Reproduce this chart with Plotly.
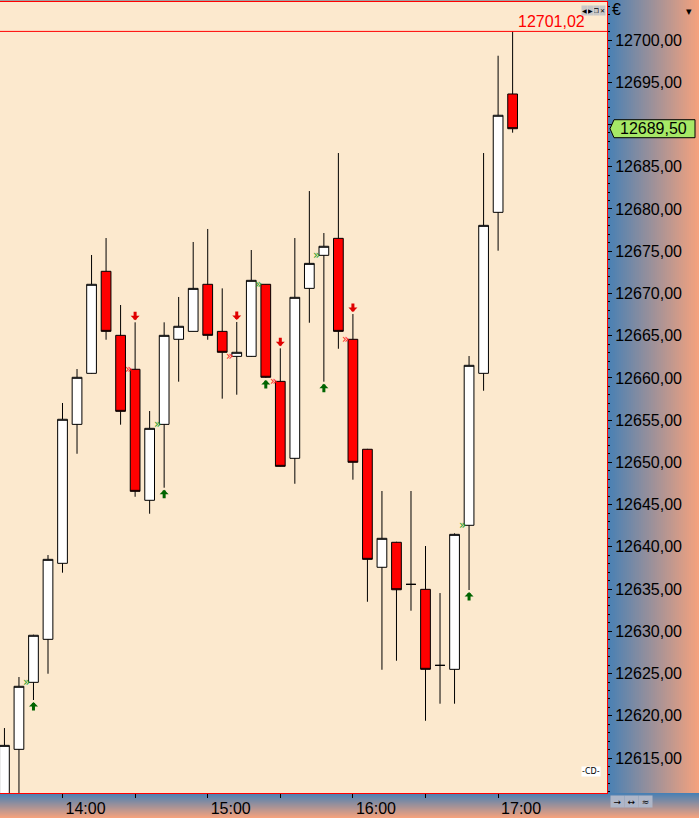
import plotly.graph_objects as go

# ---------------- data ----------------
DAY = "2024-03-15"
TIMES = ["13:36", "13:42", "13:48", "13:54", "14:00", "14:06", "14:12", "14:18", "14:24",
         "14:30", "14:36", "14:42", "14:48", "14:54", "15:00", "15:06", "15:12", "15:18",
         "15:24", "15:30", "15:36", "15:42", "15:48", "15:54", "16:00", "16:06", "16:12",
         "16:18", "16:24", "16:30", "16:36", "16:42", "16:48", "16:54", "17:00", "17:06"]
OPEN = [12609.50, 12616.03, 12623.96, 12629.05, 12638.05, 12654.50, 12660.54, 12672.62, 12665.04,
        12661.02, 12645.51, 12654.50, 12664.57, 12665.51, 12671.08, 12665.51, 12662.55, 12662.55,
        12671.08, 12659.59, 12650.48, 12670.60, 12674.51, 12676.52, 12664.57, 12651.55, 12637.58,
        12640.54, 12635.56, 12634.97, 12625.97, 12625.50, 12642.55, 12660.54, 12679.60, 12693.61]
HIGH = [12618.55, 12624.59, 12629.60, 12639.03, 12657.03, 12661.05, 12674.55, 12676.56, 12668.63,
        12666.58, 12656.08, 12666.58, 12669.58, 12676.09, 12677.63, 12670.60, 12666.62, 12675.14,
        12671.10, 12663.50, 12676.56, 12682.12, 12677.15, 12686.62, 12667.56, 12651.60, 12646.61,
        12640.60, 12646.61, 12640.10, 12634.53, 12641.60, 12662.59, 12686.62, 12698.14, 12701.02]
LOW = [12608.00, 12609.50, 12621.87, 12624.98, 12636.94, 12651.02, 12660.50, 12664.52, 12654.46,
       12645.93, 12643.92, 12647.00, 12659.55, 12665.50, 12664.52, 12657.54, 12658.01, 12662.50,
       12660.00, 12649.50, 12647.47, 12666.53, 12659.55, 12663.45, 12647.95, 12633.50, 12625.45,
       12626.52, 12632.44, 12619.41, 12621.43, 12621.43, 12634.89, 12658.48, 12675.06, 12689.03]
CLOSE = [12616.50, 12623.49, 12629.53, 12638.52, 12655.10, 12660.07, 12671.08, 12665.51, 12656.04,
         12646.57, 12654.03, 12665.04, 12666.11, 12670.60, 12665.04, 12663.03, 12663.03, 12671.55,
         12660.07, 12649.53, 12669.54, 12673.56, 12675.58, 12665.51, 12650.01, 12638.52, 12641.01,
         12634.92, 12635.56, 12625.50, 12625.97, 12641.48, 12661.49, 12678.06, 12691.09, 12689.50]

BUY_SIGNAL_TIMES = ["13:48", "14:42", "15:24", "15:48", "16:48"]
SELL_SIGNAL_TIMES = ["14:30", "15:12", "15:30", "16:00"]

SESSION_HIGH = 12701.02
LAST_PRICE = 12689.50

X_TICKS = ["14:00", "14:30", "15:00", "15:30", "16:00", "16:30", "17:00"]
X_TICK_LABELS = ["14:00", "", "15:00", "", "16:00", "", "17:00"]
Y_TICKS = [12615, 12620, 12625, 12630, 12635, 12640, 12645, 12650, 12655, 12660,
           12665, 12670, 12675, 12680, 12685, 12690, 12695, 12700]
Y_TICK_LABELS = ["12615,00", "12620,00", "12625,00", "12630,00", "12635,00", "12640,00",
                 "12645,00", "12650,00", "12655,00", "12660,00", "12665,00", "12670,00",
                 "12675,00", "12680,00", "12685,00", "", "12695,00", "12700,00"]
X_RANGE = ["13:34:10", "17:45:00"]
Y_RANGE = [12610.86, 12704.50]

# ---------------- style ----------------
W, H = 699, 818
M_L, M_R, M_T, M_B = 0, 92, 2, 25
PLOT_W = W - M_L - M_R
PLOT_H = H - M_T - M_B
FONT = "Liberation Sans"
BG = "#FCE9CE"
BLUE = (72, 128, 180)
SALMON = (244, 162, 126)


def ts(t):
    return f"{DAY} {t}"


def fmt(v):
    return f"{v:.2f}".replace(".", ",")


def lerp(c0, c1, t):
    return "rgb(%d,%d,%d)" % tuple(round(a + (b - a) * t) for a, b in zip(c0, c1))


xs = [ts(t) for t in TIMES]
idx = {t: i for i, t in enumerate(TIMES)}

fig = go.Figure()
fig.add_trace(go.Candlestick(
    x=xs, open=OPEN, high=HIGH, low=LOW, close=CLOSE,
    increasing=dict(fillcolor="white", line=dict(color="black", width=1)),
    decreasing=dict(fillcolor="#FF0000", line=dict(color="black", width=1)),
    whiskerwidth=0, showlegend=False, hoverinfo="skip",
))

shapes = []
# right axis panel gradient (horizontal)
n = 46
for i in range(n):
    shapes.append(dict(type="rect", xref="paper", yref="paper",
                       x0=1 + (i * 2) / PLOT_W, x1=1 + (i * 2 + 2.6) / PLOT_W,
                       y0=0, y1=1 + M_T / PLOT_H,
                       fillcolor=lerp(BLUE, SALMON, i / (n - 1)), line_width=0, layer="below"))
# bottom axis panel gradient (vertical)
for j in range(M_B):
    shapes.append(dict(type="rect", xref="paper", yref="paper",
                       x0=0, x1=W / PLOT_W,
                       y0=-(j + 1.3) / PLOT_H, y1=-j / PLOT_H,
                       fillcolor=lerp(BLUE, SALMON, j / (M_B - 1)), line_width=0, layer="below"))
# session high line
shapes.append(dict(type="line", xref="paper", yref="y", x0=0, x1=1,
                   y0=SESSION_HIGH, y1=SESSION_HIGH, line=dict(color="#FF0000", width=1)))
# last price tag
shapes.append(dict(type="path", xref="paper", yref="y", xsizemode="pixel", ysizemode="pixel",
                   xanchor=1, yanchor=LAST_PRICE,
                   path="M 3 0 L 7 9 L 88 9 L 88 -9 L 7 -9 Z",
                   fillcolor="#A6E866", line=dict(color="black", width=1), layer="above"))

ann = []
# buy / sell arrows and entry chevrons
for t in BUY_SIGNAL_TIMES:
    i = idx[t]
    ann.append(dict(x=ts(t), y=LOW[i], xref="x", yref="y", text="", showarrow=True,
                    ax=0, ay=12, arrowhead=1, arrowsize=0.5, arrowwidth=3,
                    arrowcolor="#006400", standoff=2))
    ann.append(dict(x=ts(t), y=OPEN[i], xref="x", yref="y", text="»", showarrow=False,
                    xshift=-7, font=dict(family="DejaVu Sans", size=12, color="#1E9A1E")))
for t in SELL_SIGNAL_TIMES:
    i = idx[t]
    ann.append(dict(x=ts(t), y=HIGH[i], xref="x", yref="y", text="", showarrow=True,
                    ax=0, ay=-12, arrowhead=1, arrowsize=0.5, arrowwidth=3,
                    arrowcolor="#E00000", standoff=2))
    ann.append(dict(x=ts(t), y=OPEN[i], xref="x", yref="y", text="»", showarrow=False,
                    xshift=-7, font=dict(family="DejaVu Sans", size=12, color="#FF2020")))

# session high label
ann.append(dict(x=1, y=SESSION_HIGH, xref="paper", yref="y", text=fmt(SESSION_HIGH),
                showarrow=False, xanchor="right", yanchor="bottom", xshift=-20, yshift=-1,
                font=dict(family=FONT, size=16, color="#FF0000")))
# last price label
ann.append(dict(x=1, y=LAST_PRICE, xref="paper", yref="y", text=fmt(LAST_PRICE),
                showarrow=False, xanchor="left", yanchor="middle", xshift=11,
                font=dict(family=FONT, size=16, color="black")))
# currency + dropdown
ann.append(dict(x=1, y=1, xref="paper", yref="paper", text="€", showarrow=False,
                xanchor="left", yanchor="top", xshift=3, yshift=3,
                font=dict(family=FONT, size=16, color="black")))
ann.append(dict(x=1, y=1, xref="paper", yref="paper", text="▾", showarrow=False,
                xanchor="left", yanchor="top", xshift=77, yshift=-1,
                font=dict(family="DejaVu Sans", size=11, color="black")))
# window buttons
for k, g in enumerate(["◀", "▶", "❐", "✕"]):
    ann.append(dict(x=1, y=1, xref="paper", yref="paper", text=g, showarrow=False,
                    xanchor="right", yanchor="top", xshift=-1 - (3 - k) * 6, yshift=-3,
                    bgcolor="#C8C8C8", borderpad=0, width=5, height=9,
                    font=dict(family="DejaVu Sans", size=6, color="black")))
# bottom right buttons
for k, g in enumerate(["→", "↔", "≈"]):
    ann.append(dict(x=1, y=0, xref="paper", yref="paper", text=g, showarrow=False,
                    xanchor="left", yanchor="top", xshift=3 + k * 14, yshift=-2,
                    bgcolor="#AEB6C8", borderpad=0, width=13, height=11,
                    font=dict(family="DejaVu Sans", size=9, color="black")))
# plug icon
ann.append(dict(x=1, y=0, xref="paper", yref="paper", text="-CD-", showarrow=False,
                xanchor="right", yanchor="bottom", xshift=-6, yshift=16, bgcolor="#FFFFFF",
                borderpad=0, font=dict(family="DejaVu Sans", size=8, color="black")))

fig.update_layout(
    width=W, height=H, autosize=False,
    margin=dict(l=M_L, r=M_R, t=M_T, b=M_B, autoexpand=False),
    paper_bgcolor="#A0A0A0", plot_bgcolor=BG,
    separators=", ",
    boxgap=0.33, boxgroupgap=0,
    showlegend=False,
    shapes=shapes, annotations=ann,
    font=dict(family=FONT, size=16, color="black"),
    xaxis=dict(type="date", range=[ts(X_RANGE[0]), ts(X_RANGE[1])],
               tickmode="array", tickvals=[ts(t) for t in X_TICKS], ticktext=X_TICK_LABELS,
               ticks="outside", ticklen=4, tickwidth=1, tickcolor="black",
               ticklabelshift=23, ticklabelstandoff=-3,
               tickfont=dict(family=FONT, size=16, color="black"),
               showgrid=False, zeroline=False, showline=True, linecolor="#FF0000",
               linewidth=1, mirror=True, rangeslider=dict(visible=False), fixedrange=True),
    yaxis=dict(side="right", range=Y_RANGE, tickmode="array", tickvals=Y_TICKS,
               ticktext=Y_TICK_LABELS,
               ticks="outside", ticklen=4, tickwidth=1, tickcolor="black",
               minor=dict(dtick=1, ticks="outside", ticklen=2, tickcolor="black", showgrid=False),
               tickfont=dict(family=FONT, size=16, color="black"),
               showgrid=False, zeroline=False, showline=True, linecolor="#FF0000",
               linewidth=1, mirror=False, fixedrange=True),
)

fig.write_html("out.html", config=dict(displayModeBar=False),
               post_script="document.body.style.margin='0';document.body.style.padding='0';")
